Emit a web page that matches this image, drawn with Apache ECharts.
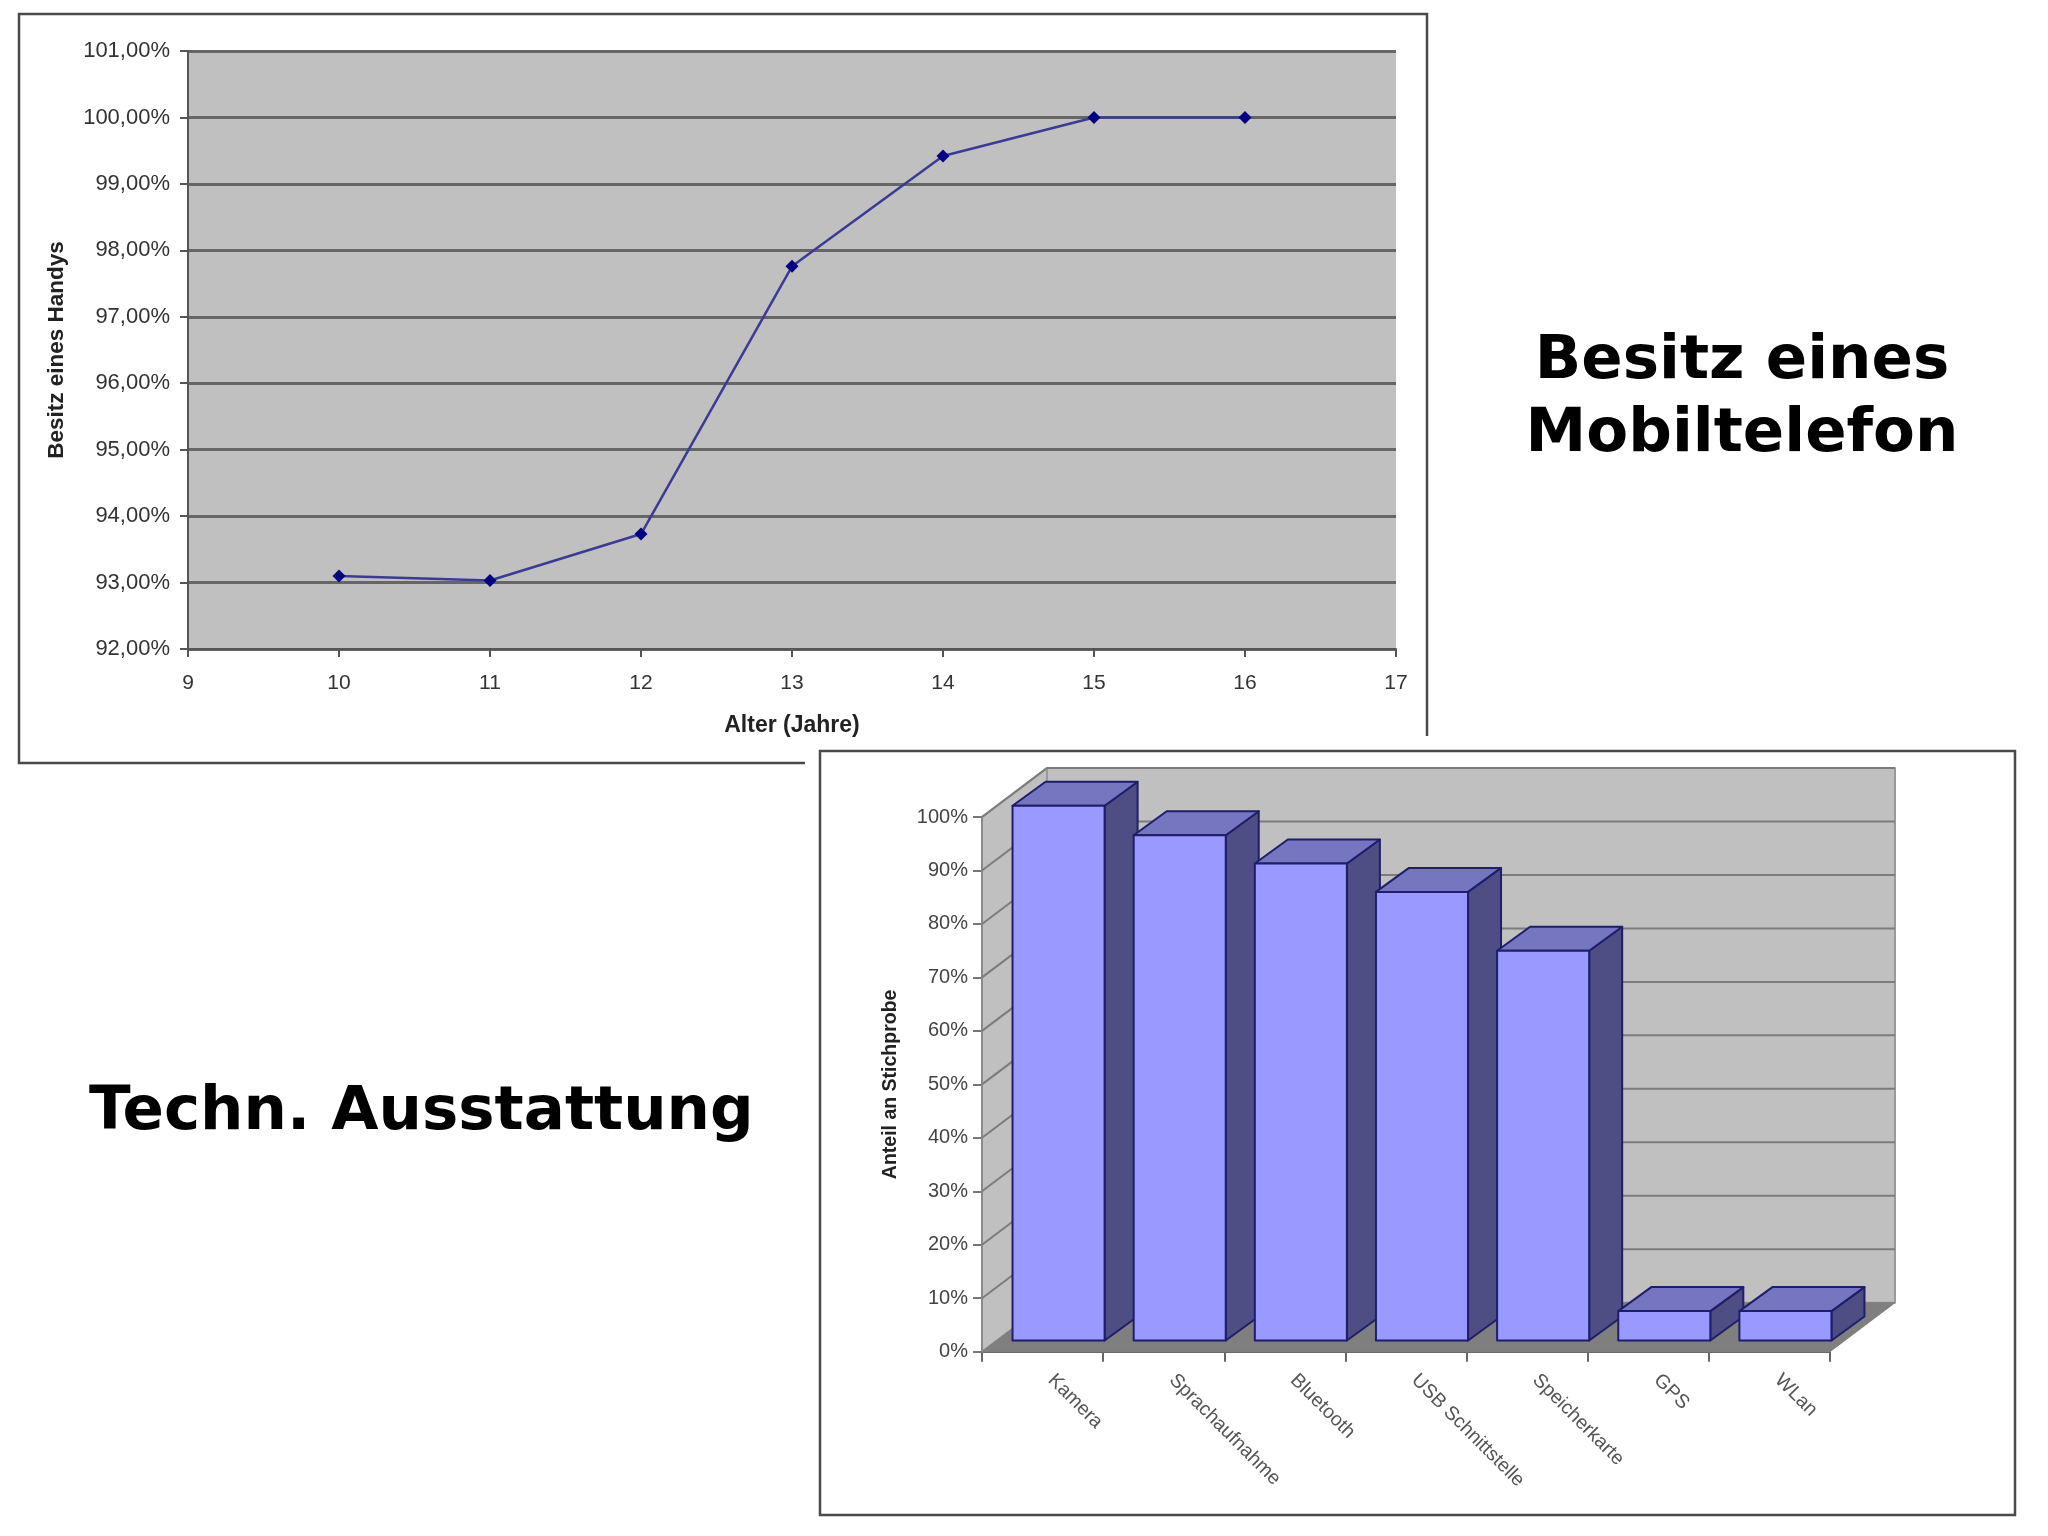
<!DOCTYPE html>
<html><head><meta charset="utf-8">
<style>html,body{margin:0;padding:0;background:#fff}#c{width:2048px;height:1536px}</style>
<script src="https://cdn.jsdelivr.net/npm/echarts@6/dist/echarts.min.js"></script>
</head><body><div id="c"></div>
<script>
const ageValues = [10, 11, 12, 13, 14, 15, 16];
const ownership = [93.1, 93.03, 93.73, 97.76, 99.42, 100, 100];
const featureNames = ['Kamera', 'Sprachaufnahme', 'Bluetooth', 'USB Schnittstelle', 'Speicherkarte', 'GPS', 'WLan'];
const featureShares = [100, 94.5, 89.2, 83.9, 72.9, 5.5, 5.5];
const shareTicks = [10, 20, 30, 40, 50, 60, 70, 80, 90, 100];

const FONT = '"Liberation Sans", Arial, sans-serif';
const WALL = { dx: 65, dy: -49 };
const BAR_POS = { dx: 16, dy: -11.2 };
const BAR_DEPTH = { dx: 33, dy: -24 };

function poly(points, fill, stroke, lw, z) {
  return { type: 'polygon', z2: z || 0, shape: { points }, style: { fill, stroke: stroke || 'none', lineWidth: lw || 0, lineJoin: 'round' } };
}
function seg(a, b, stroke, lw) {
  return { type: 'line', shape: { x1: a[0], y1: a[1], x2: b[0], y2: b[1] }, style: { stroke, lineWidth: lw } };
}
function renderWalls(params, api) {
  const c = params.coordSys;
  const l = c.x, r = c.x + c.width, t = c.y, b = c.y + c.height;
  const d = WALL;
  const kids = [
    poly([[l, b], [l, t], [l + d.dx, t + d.dy], [l + d.dx, b + d.dy]], '#c0c0c0', '#8a8a8a', 2),
    poly([[l + d.dx, t + d.dy], [r + d.dx, t + d.dy], [r + d.dx, b + d.dy], [l + d.dx, b + d.dy]], '#c0c0c0', '#9a9a9a', 2),
    poly([[l, b], [r, b], [r + d.dx, b + d.dy], [l + d.dx, b + d.dy]], '#7f7f7f', '#7f7f7f', 1)
  ];
  shareTicks.forEach(v => {
    const y = api.coord([0, v])[1];
    kids.push(seg([l, y], [l + d.dx, y + d.dy], '#7c7c7c', 2));
    kids.push(seg([l + d.dx, y + d.dy], [r + d.dx, y + d.dy], '#7c7c7c', 2));
  });
  return { type: 'group', children: kids };
}
function renderBar(params, api) {
  const i = api.value(0), v = api.value(1);
  const cx = api.coord([i, 0])[0] + BAR_POS.dx;
  const w = api.size([1, 0])[0] * 0.76;
  const y0 = api.coord([i, 0])[1] + BAR_POS.dy;
  const y1 = api.coord([i, v])[1] + BAR_POS.dy;
  const x0 = cx - w / 2, x1 = cx + w / 2, dx = BAR_DEPTH.dx, dy = BAR_DEPTH.dy;
  const edge = '#1e1e6b';
  return { type: 'group', children: [
    poly([[x1, y1], [x1 + dx, y1 + dy], [x1 + dx, y0 + dy], [x1, y0]], '#4e4e84', edge, 2),
    poly([[x0, y1], [x1, y1], [x1 + dx, y1 + dy], [x0 + dx, y1 + dy]], '#7575c0', edge, 2),
    poly([[x0, y0], [x0, y1], [x1, y1], [x1, y0]], '#9999ff', edge, 2)
  ]};
}

const chart = echarts.init(document.getElementById('c'), null, { renderer: 'canvas' });
chart.setOption({
  backgroundColor: '#ffffff',
  animation: false,
  textStyle: { fontFamily: FONT },
  graphic: [
    { type: 'rect', z: -3, shape: { x: 19, y: 14, width: 1408, height: 749 }, style: { fill: '#fff', stroke: '#4a4a4a', lineWidth: 2.5 } },
    { type: 'rect', z: -2, shape: { x: 805, y: 736, width: 1243, height: 800 }, style: { fill: '#fff' } },
    { type: 'rect', z: -1, shape: { x: 820, y: 751, width: 1195, height: 764 }, style: { fill: '#fff', stroke: '#4a4a4a', lineWidth: 2.5 } }
  ],
  title: [
    { text: 'Besitz eines\nMobiltelefon', left: 1737, top: 321, textAlign: 'center',
      textStyle: { fontFamily: '"DejaVu Sans"', fontSize: 61, fontWeight: 'bold', color: '#000', lineHeight: 73 } },
    { text: 'Techn. Ausstattung', left: 84, top: 1078, textAlign: 'left',
      textStyle: { fontFamily: '"DejaVu Sans"', fontSize: 61, fontWeight: 'bold', color: '#000' } }
  ],
  grid: [
    { left: 188, top: 51, width: 1208, height: 598, show: true, backgroundColor: '#c0c0c0', borderWidth: 0 },
    { left: 982, top: 817, width: 848, height: 534.7, show: false }
  ],
  xAxis: [
    { gridIndex: 0, type: 'value', min: 9, max: 17, interval: 1,
      name: 'Alter (Jahre)', nameLocation: 'middle', nameGap: 65,
      nameTextStyle: { fontSize: 23, fontWeight: 'bold', color: '#222' },
      axisLine: { show: true, lineStyle: { color: '#555', width: 2 } },
      axisTick: { show: true, inside: false, length: 8, lineStyle: { color: '#555', width: 2 } },
      axisLabel: { fontSize: 21, color: '#333', margin: 24 },
      splitLine: { show: false } },
    { gridIndex: 1, type: 'category', data: featureNames, boundaryGap: true,
      axisLine: { show: true, onZero: false, lineStyle: { color: '#666', width: 2 } },
      axisTick: { show: true, alignWithLabel: false, length: 10, lineStyle: { color: '#666', width: 2 } },
      axisLabel: { fontSize: 19.5, color: '#555', rotate: -45, margin: 17, interval: 0, padding: [0, 0, 0, 12] },
      splitLine: { show: false } }
  ],
  yAxis: [
    { gridIndex: 0, type: 'value', min: 92, max: 101, interval: 1,
      name: 'Besitz eines Handys', nameLocation: 'middle', nameGap: 120,
      nameTextStyle: { fontSize: 22.5, fontWeight: 'bold', color: '#222' },
      axisLine: { show: true, lineStyle: { color: '#555', width: 2 } },
      axisTick: { show: true, length: 8, lineStyle: { color: '#555', width: 2 } },
      axisLabel: { fontSize: 22, color: '#333', margin: 18, formatter: v => v.toFixed(2).replace('.', ',') + '%' },
      splitLine: { show: true, lineStyle: { color: '#666', width: 3 } } },
    { gridIndex: 1, type: 'value', min: 0, max: 100, interval: 10,
      name: 'Anteil an Stichprobe', nameLocation: 'middle', nameGap: 81,
      nameTextStyle: { fontSize: 19.5, fontWeight: 'bold', color: '#222' },
      axisLine: { show: true, lineStyle: { color: '#777', width: 2 } },
      axisTick: { show: true, length: 9, lineStyle: { color: '#777', width: 2 } },
      axisLabel: { fontSize: 20, color: '#444', margin: 14, formatter: '{value}%' },
      splitLine: { show: false } }
  ],
  series: [
    { type: 'line', xAxisIndex: 0, yAxisIndex: 0, smooth: false,
      data: ageValues.map((a, i) => [a, ownership[i]]),
      symbol: 'diamond', symbolSize: 13,
      lineStyle: { color: '#3b3b96', width: 2.5 },
      itemStyle: { color: '#000080' } },
    { type: 'custom', xAxisIndex: 1, yAxisIndex: 1, z: 1, clip: false, silent: true,
      data: [[0, 0]], renderItem: renderWalls },
    { type: 'custom', xAxisIndex: 1, yAxisIndex: 1, z: 3, clip: false, silent: true,
      data: featureShares.map((v, i) => [i, v]), encode: { x: 0, y: 1 }, renderItem: renderBar }
  ]
});
</script></body></html>
